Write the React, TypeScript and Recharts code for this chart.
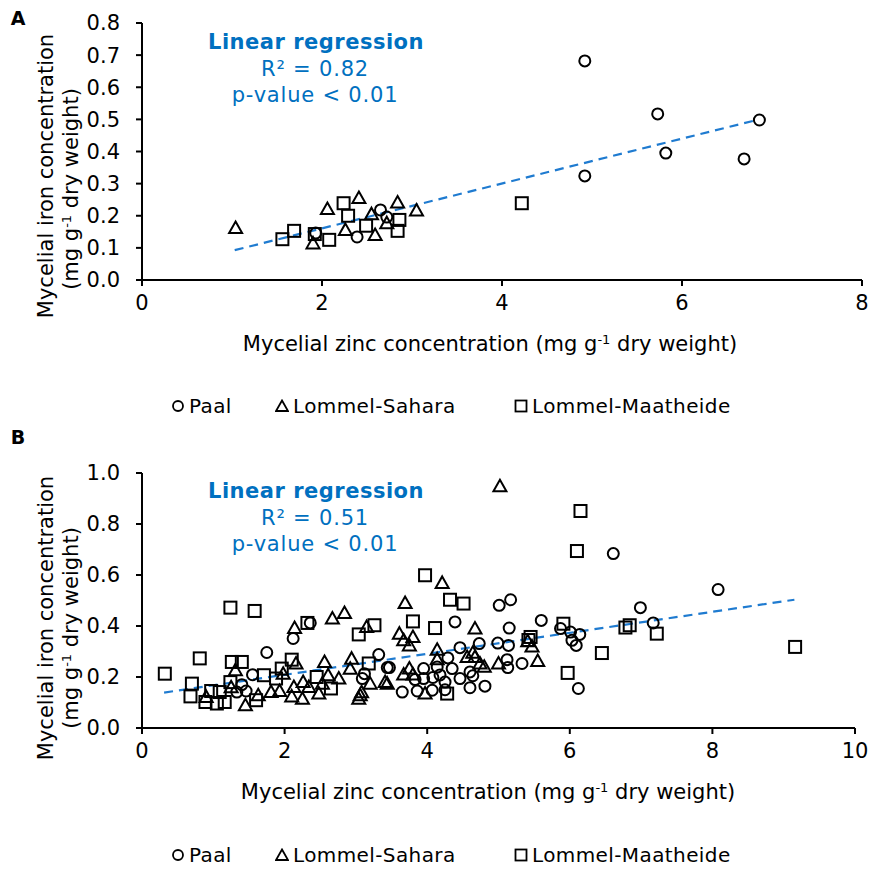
import React from 'react'
import { ScatterChart, Scatter, XAxis, YAxis } from 'recharts'

type Pt = { x: number; y: number }

const pts = (rows: number[][]): Pt[] => rows.map(([x, y]) => ({ x, y }))

// Panel A: Zn vs Fe per site
const paalA = pts([
  [4.92, 0.682], [5.73, 0.517], [5.82, 0.395], [6.86, 0.498], [6.69, 0.377],
  [4.92, 0.324], [2.65, 0.218], [2.72, 0.196], [2.39, 0.134], [1.93, 0.146],
])
const saharaA = pts([
  [1.04, 0.162], [2.06, 0.221], [2.41, 0.255], [2.84, 0.241], [3.05, 0.216],
  [2.55, 0.205], [2.26, 0.156], [2.59, 0.14], [1.9, 0.114], [2.72, 0.177],
])
const maatheideA = pts([
  [1.56, 0.127], [1.69, 0.153], [1.92, 0.143], [2.08, 0.125], [2.24, 0.239],
  [2.29, 0.2], [2.49, 0.169], [2.86, 0.187], [2.84, 0.153], [4.22, 0.239],
])
const trendA: Pt[] = [{ x: 1.03, y: 0.093 }, { x: 6.83, y: 0.498 }]
const xTicksA = [0, 2, 4, 6, 8]
const yTicksA = [0, 0.1, 0.2, 0.3, 0.4, 0.5, 0.6, 0.7, 0.8]

// Panel B
const paalB = pts([
  [1.75, 0.296], [2.12, 0.351], [2.36, 0.412], [3.32, 0.288], [3.44, 0.237],
  [3.12, 0.213], [3.09, 0.194], [1.55, 0.209], [1.46, 0.145], [1.33, 0.141],
  [1.4, 0.17], [5.01, 0.481], [5.17, 0.503], [4.39, 0.416], [5.6, 0.422],
  [5.15, 0.392], [5.87, 0.39], [6.01, 0.376], [6.14, 0.367], [6.03, 0.344],
  [6.09, 0.324], [6.12, 0.155], [4.46, 0.315], [4.73, 0.331], [4.99, 0.333],
  [5.14, 0.324], [4.29, 0.275], [5.12, 0.268], [5.33, 0.253], [5.13, 0.237],
  [3.47, 0.237], [4.14, 0.239], [4.35, 0.233], [4.46, 0.194], [4.6, 0.22],
  [4.64, 0.205], [3.83, 0.19], [3.95, 0.194], [4.08, 0.198], [4.18, 0.208],
  [4.25, 0.18], [3.65, 0.141], [3.86, 0.145], [4.07, 0.148], [4.6, 0.158],
  [4.81, 0.164], [4.25, 0.15], [3.95, 0.233], [6.61, 0.684], [8.08, 0.543],
  [6.99, 0.472], [7.17, 0.412],
])
const saharaB = pts([
  [2.14, 0.392], [2.67, 0.429], [2.84, 0.451], [3.15, 0.396], [1.31, 0.226],
  [2.16, 0.253], [2.56, 0.259], [2.94, 0.272], [1.98, 0.213], [2.61, 0.207],
  [2.76, 0.194], [1.45, 0.089], [1.63, 0.128], [0.9, 0.122], [1.81, 0.141],
  [1.93, 0.145], [2.13, 0.161], [2.26, 0.18], [2.34, 0.161], [2.1, 0.124],
  [2.25, 0.115], [2.48, 0.135], [2.53, 0.174], [3.06, 0.128], [3.04, 0.115],
  [3.08, 0.14], [3.2, 0.174], [3.41, 0.18], [1.25, 0.16], [2.92, 0.232],
  [4.21, 0.569], [3.69, 0.49], [4.67, 0.39], [3.61, 0.37], [3.8, 0.357],
  [3.67, 0.344], [3.75, 0.324], [4.14, 0.307], [4.56, 0.278], [4.67, 0.278],
  [4.64, 0.295], [4.74, 0.253], [4.8, 0.24], [5.0, 0.253], [5.55, 0.263],
  [5.41, 0.34], [5.47, 0.32], [3.75, 0.233], [3.67, 0.21], [3.8, 0.21],
  [3.44, 0.174], [3.97, 0.135], [5.02, 0.948], [4.14, 0.27],
])
const maatheideB = pts([
  [0.32, 0.213], [1.24, 0.472], [1.58, 0.459], [0.81, 0.273], [0.7, 0.174],
  [0.68, 0.124], [0.89, 0.102], [0.97, 0.145], [1.05, 0.096], [1.16, 0.102],
  [1.09, 0.141], [1.26, 0.259], [1.4, 0.259], [1.24, 0.18], [1.71, 0.207],
  [1.6, 0.109], [1.96, 0.233], [2.1, 0.268], [1.88, 0.194], [2.32, 0.412],
  [2.45, 0.2], [2.65, 0.155], [3.04, 0.367], [3.26, 0.403], [3.18, 0.253],
  [3.97, 0.599], [4.32, 0.503], [4.51, 0.488], [3.8, 0.418], [4.11, 0.392],
  [5.45, 0.357], [5.91, 0.409], [6.45, 0.294], [5.97, 0.216], [4.28, 0.135],
  [6.78, 0.394], [6.84, 0.403], [7.22, 0.37], [9.16, 0.318], [6.15, 0.851],
  [6.1, 0.694], [5.42, 0.345],
])
const trendB: Pt[] = [{ x: 0.31, y: 0.139 }, { x: 9.15, y: 0.503 }]
const xTicksB = [0, 2, 4, 6, 8, 10]
const yTicksB = [0, 0.2, 0.4, 0.6, 0.8, 1.0]

const sites = ['Paal', 'Lommel-Sahara', 'Lommel-Maatheide']

const FONT = '"DejaVu Sans", Verdana, sans-serif'
const INK = '#000'
const BLUE = '#0070C0'
const TREND = '#1F7BD0'

function CircleMark(props: any) {
  const { cx, cy } = props
  return <circle cx={cx} cy={cy} r={5.5} fill="none" stroke={INK} strokeWidth={2} />
}

function TriangleMark(props: any) {
  const { cx, cy } = props
  return (
    <path
      d={`M${cx},${cy - 6.5} L${cx + 6.5},${cy + 5} L${cx - 6.5},${cy + 5} Z`}
      fill="none" stroke={INK} strokeWidth={2} strokeLinejoin="miter"
    />
  )
}

function SquareMark(props: any) {
  const { cx, cy } = props
  return <rect x={cx - 6} y={cy - 6} width={12} height={12} fill="none" stroke={INK} strokeWidth={2} />
}

const NoMark = () => <g />

const Unit = () => (
  <>(mg g<sup style={{ fontSize: 13, verticalAlign: 7 }}>-1</sup> dry weight)</>
)

function Txt({ x, y, style, children, rotate }: any) {
  return (
    <div
      style={{
        position: 'absolute', left: x, top: y, whiteSpace: 'nowrap', lineHeight: 1,
        transform: `translate(-50%, -50%)${rotate ? ' rotate(-90deg)' : ''}`,
        ...style,
      }}
    >
      {children}
    </div>
  )
}

function LegendRow({ y }: { y: number }) {
  const icons = [
    <circle key="c" cx={7} cy={7} r={5} fill="none" stroke={INK} strokeWidth={1.8} />,
    <path key="t" d="M7,1.5 L13,12 L1,12 Z" fill="none" stroke={INK} strokeWidth={1.8} />,
    <rect key="s" x={1.5} y={1.5} width={11} height={11} fill="none" stroke={INK} strokeWidth={1.8} />,
  ]
  const lefts = [171, 275, 514]
  return (
    <>
      {sites.map((s, i) => (
        <div
          key={s}
          style={{
            position: 'absolute', left: lefts[i], top: y - 12, display: 'flex',
            alignItems: 'center', gap: 4, fontSize: 20, letterSpacing: 0.4,
            lineHeight: '24px', whiteSpace: 'nowrap',
          }}
        >
          <svg width={14} height={14}>{icons[i]}</svg>
          <span>{s}</span>
        </div>
      ))}
    </>
  )
}

function Panel({
  top, margin, xDomain, xTicks, yDomain, yTicks, paal, sahara, maatheide, trend,
}: any) {
  const axisLine = { stroke: INK, strokeWidth: 2 }
  const tick = { fill: INK, fontSize: 21, fontFamily: FONT }
  return (
    <div style={{ position: 'absolute', left: 0, top }}>
      <ScatterChart width={873} height={430} margin={margin}>
        <XAxis
          type="number" dataKey="x" domain={xDomain} ticks={xTicks} allowDataOverflow
          height={30} tickSize={6} tickMargin={9} tick={tick}
          axisLine={axisLine} tickLine={axisLine}
        />
        <YAxis
          type="number" dataKey="y" domain={yDomain} ticks={yTicks} allowDataOverflow
          width={60} tickSize={6} tickMargin={16} tick={tick}
          tickFormatter={(v: number) => v.toFixed(1)}
          axisLine={axisLine} tickLine={axisLine}
        />
        <Scatter data={trend} shape={NoMark} line={{ stroke: TREND, strokeWidth: 2.2, strokeDasharray: '9 6' }} isAnimationActive={false} />
        <Scatter data={paal} shape={CircleMark} isAnimationActive={false} />
        <Scatter data={sahara} shape={TriangleMark} isAnimationActive={false} />
        <Scatter data={maatheide} shape={SquareMark} isAnimationActive={false} />
      </ScatterChart>
    </div>
  )
}

function Annotation({ y, r2 }: { y: number; r2: string }) {
  const line = { color: BLUE, fontSize: 21, letterSpacing: 0.8 }
  return (
    <>
      <Txt x={316} y={y} style={{ color: BLUE, fontWeight: 'bold', fontSize: 21, letterSpacing: 0.5 }}>Linear regression</Txt>
      <Txt x={315} y={y + 27} style={line}>R² = {r2}</Txt>
      <Txt x={315} y={y + 53} style={line}>p-value &lt; 0.01</Txt>
    </>
  )
}

export default function App() {
  const title = { fontSize: 21 }
  return (
    <div style={{ position: 'absolute', left: 0, top: 0, width: 873, height: 870, background: '#fff', fontFamily: FONT, color: INK }}>
      <Panel
        top={0}
        margin={{ top: 23, right: 11, bottom: 120, left: 82 }}
        xDomain={[0, 8]} xTicks={xTicksA} yDomain={[0, 0.8]} yTicks={yTicksA}
        paal={paalA} sahara={saharaA} maatheide={maatheideA} trend={trendA}
      />
      <Panel
        top={440}
        margin={{ top: 33, right: 18, bottom: 112, left: 82 }}
        xDomain={[0, 10]} xTicks={xTicksB} yDomain={[0, 1]} yTicks={yTicksB}
        paal={paalB} sahara={saharaB} maatheide={maatheideB} trend={trendB}
      />

      <Txt x={18} y={18} style={{ fontWeight: 'bold', fontSize: 19 }}>A</Txt>
      <Txt x={18} y={437} style={{ fontWeight: 'bold', fontSize: 19 }}>B</Txt>

      <Annotation y={42} r2="0.82" />
      <Annotation y={491} r2="0.51" />

      <Txt x={46} y={176} rotate style={title}>Mycelial iron concentration</Txt>
      <Txt x={71} y={189} rotate style={title}><Unit /></Txt>
      <Txt x={490} y={344} style={title}>Mycelial zinc concentration <Unit /></Txt>

      <Txt x={46} y={618} rotate style={title}>Mycelial iron concentration</Txt>
      <Txt x={71} y={628} rotate style={title}><Unit /></Txt>
      <Txt x={488} y={792} style={title}>Mycelial zinc concentration <Unit /></Txt>

      <LegendRow y={406} />
      <LegendRow y={855} />
    </div>
  )
}
